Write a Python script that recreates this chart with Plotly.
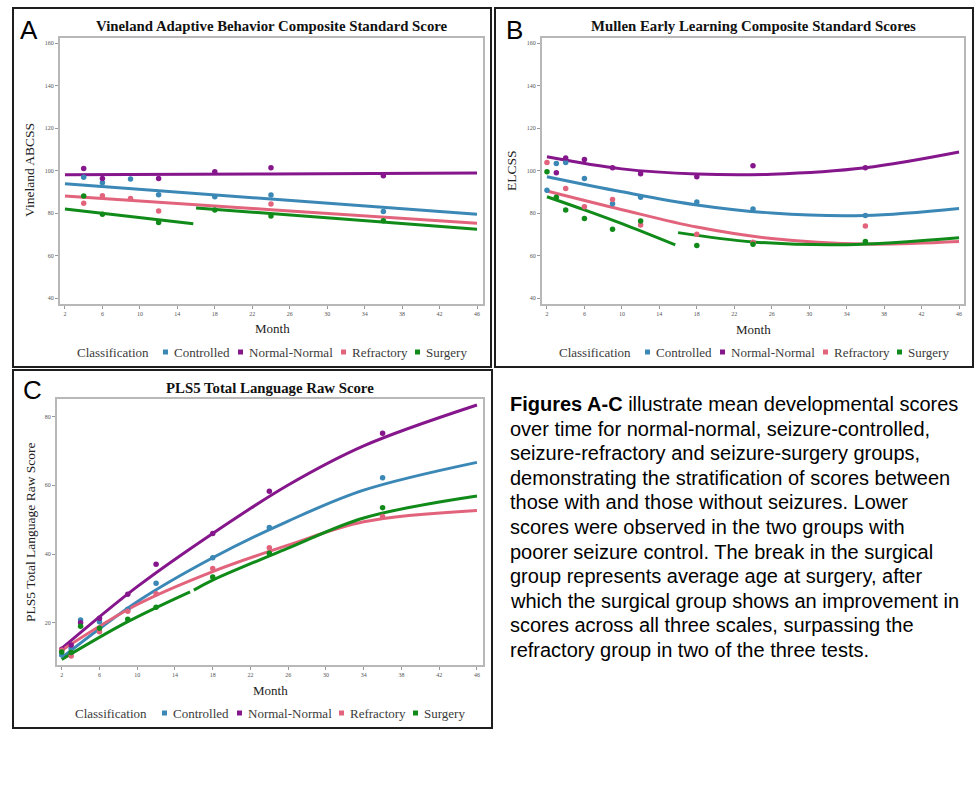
import plotly.graph_objects as go

W, H = 974, 806

# ---------------- shared labels / ticks ----------------
groups = ["Controlled", "Normal-Normal", "Refractory", "Surgery"]
group_colors = ["#3b88b6", "#86168b", "#e2647c", "#108a18"]
month_ticks = [2, 6, 10, 14, 18, 22, 26, 30, 34, 38, 42, 46]
std_ticks = [40, 60, 80, 100, 120, 140, 160]
pls_ticks = [20, 40, 60, 80]

# ---------------- Panel A: Vineland ABCSS ----------------
vab_ctrl_month = [4, 6, 9, 12, 18, 24, 36]
vab_ctrl_mean = [96.8, 94.3, 96.0, 88.6, 87.7, 88.5, 80.7]
vab_nn_month = [4, 6, 12, 18, 24, 36]
vab_nn_mean = [101.0, 96.3, 96.3, 99.4, 101.3, 97.6]
vab_ref_month = [4, 6, 9, 12, 24]
vab_ref_mean = [84.6, 88.2, 86.9, 81.0, 84.3]
vab_surg_month = [4, 6, 12, 18, 24, 36]
vab_surg_mean = [88.0, 79.4, 75.6, 81.4, 78.6, 76.4]

vab_fit_month = [2, 24, 46]
vab_ctrl_fit = [93.8, 86.6, 79.4]
vab_nn_fit = [98.0, 98.4, 98.8]
vab_ref_fit = [88.0, 81.6, 75.2]
vab_surg_pre_month = [2, 15.7]
vab_surg_pre_fit = [81.9, 75.0]
vab_surg_post_month = [16, 31, 46]
vab_surg_post_fit = [82.4, 77.4, 72.4]

# ---------------- Panel B: Mullen ELCSS ----------------
elc_ctrl_month = [2, 3, 4, 6, 9, 12, 18, 24, 36]
elc_ctrl_mean = [90.7, 103.3, 103.8, 96.3, 84.4, 87.4, 85.2, 81.9, 78.9]
elc_nn_month = [3, 4, 6, 9, 12, 18, 24, 36]
elc_nn_mean = [99.0, 105.9, 105.2, 101.3, 98.5, 97.1, 102.3, 101.3]
elc_ref_month = [2, 4, 6, 9, 12, 18, 24, 36]
elc_ref_mean = [103.8, 91.6, 83.0, 86.4, 74.4, 70.0, 66.3, 73.9]
elc_surg_month = [2, 3, 4, 6, 9, 12, 18, 24, 36]
elc_surg_mean = [99.4, 87.4, 81.4, 77.5, 72.4, 76.3, 64.7, 65.3, 66.6]

elc_fit_month = [2, 10, 18, 26, 36, 46]
elc_ctrl_fit = [97.1, 90.0, 83.8, 80.0, 78.9, 82.2]
elc_nn_fit = [106.5, 100.8, 98.4, 98.3, 101.3, 108.7]
elc_ref_fit = [90.4, 81.6, 73.4, 68.0, 65.4, 66.6]
elc_surg_pre_month = [2, 6, 10, 15.7]
elc_surg_pre_fit = [87.7, 81.5, 75.0, 65.0]
elc_surg_post_month = [16, 24, 34, 46]
elc_surg_post_fit = [70.8, 66.4, 65.1, 68.4]

# ---------------- Panel C: PLS5 raw ----------------
pls_ctrl_month = [2, 3, 4, 6, 9, 12, 18, 24, 36]
pls_ctrl_mean = [10.6, 12.5, 20.8, 20.3, 23.9, 31.5, 38.9, 47.7, 62.2]
pls_nn_month = [2, 3, 4, 6, 9, 12, 18, 24, 36]
pls_nn_mean = [12.3, 13.5, 20.0, 21.3, 28.3, 37.0, 46.0, 58.3, 75.2]
pls_ref_month = [2, 3, 6, 9, 12, 18, 24, 36]
pls_ref_mean = [12.0, 10.3, 17.4, 23.3, 28.4, 35.8, 41.8, 50.9]
pls_surg_month = [2, 3, 4, 6, 9, 12, 18, 24, 36]
pls_surg_mean = [11.5, 11.3, 19.0, 18.4, 21.0, 24.5, 33.3, 40.2, 53.5]

pls_fit_month = [2, 10, 18, 26, 34, 46]
pls_ctrl_fit = [9.8, 26.1, 38.9, 49.6, 58.6, 66.7]
pls_nn_fit = [12.5, 30.5, 46.0, 60.1, 71.5, 83.4]
pls_ref_fit = [12.0, 25.3, 34.9, 42.6, 49.4, 52.7]
pls_surg_pre_month = [2, 9, 15.6]
pls_surg_pre_fit = [9.3, 20.3, 29.0]
pls_surg_post_month = [16, 18, 26, 34, 46]
pls_surg_post_fit = [29.5, 32.4, 41.7, 50.5, 56.9]

# ---------------- text ----------------
panel_titles = ["Vineland Adaptive Behavior Composite Standard Score",
                "Mullen Early Learning Composite Standard Scores",
                "PLS5 Total Language Raw Score"]
y_titles = ["Vineland ABCSS", "ELCSS", "PLS5 Total Language Raw Score"]
panel_letters = ["A", "B", "C"]
legend_title = "Classification"
x_title = "Month"
caption_lines = [
    "<b>Figures A-C</b> illustrate mean developmental scores",
    "over time for normal-normal, seizure-controlled,",
    "seizure-refractory and seizure-surgery groups,",
    "demonstrating the stratification of scores between",
    "those with and those without seizures. Lower",
    "scores were observed in the two groups with",
    "poorer seizure control. The break in the surgical",
    "group represents average age at surgery, after",
    "which the surgical group shows an improvement in",
    "scores across all three scales, surpassing the",
    "refractory group in two of the three tests.",
]


def px(x):
    return x / W


def py(y):
    return 1 - y / H


SERIF = "Liberation Serif, Times New Roman, serif"
SANS = "Liberation Sans, Arial, sans-serif"

fig = go.Figure()


def add_panel(ax, points, fits, surg_pre, surg_post):
    xa = "x" if ax == 1 else f"x{ax}"
    ya = "y" if ax == 1 else f"y{ax}"
    for (fm, fy), col in zip(fits, group_colors[:3]):
        fig.add_trace(go.Scatter(x=fm, y=fy, mode="lines", xaxis=xa, yaxis=ya,
                                 line=dict(color=col, width=3, shape="spline"),
                                 showlegend=False, hoverinfo="skip"))
    for seg in (surg_pre, surg_post):
        fig.add_trace(go.Scatter(x=seg[0], y=seg[1], mode="lines", xaxis=xa, yaxis=ya,
                                 line=dict(color=group_colors[3], width=3, shape="spline"),
                                 showlegend=False, hoverinfo="skip"))
    for (m, v), col, name in zip(points, group_colors, groups):
        fig.add_trace(go.Scatter(x=m, y=v, mode="markers", xaxis=xa, yaxis=ya, name=name,
                                 marker=dict(color=col, size=5.5),
                                 showlegend=False))


add_panel(1,
          [(vab_ctrl_month, vab_ctrl_mean), (vab_nn_month, vab_nn_mean),
           (vab_ref_month, vab_ref_mean), (vab_surg_month, vab_surg_mean)],
          [(vab_fit_month, vab_ctrl_fit), (vab_fit_month, vab_nn_fit), (vab_fit_month, vab_ref_fit)],
          (vab_surg_pre_month, vab_surg_pre_fit), (vab_surg_post_month, vab_surg_post_fit))
add_panel(2,
          [(elc_ctrl_month, elc_ctrl_mean), (elc_nn_month, elc_nn_mean),
           (elc_ref_month, elc_ref_mean), (elc_surg_month, elc_surg_mean)],
          [(elc_fit_month, elc_ctrl_fit), (elc_fit_month, elc_nn_fit), (elc_fit_month, elc_ref_fit)],
          (elc_surg_pre_month, elc_surg_pre_fit), (elc_surg_post_month, elc_surg_post_fit))
add_panel(3,
          [(pls_ctrl_month, pls_ctrl_mean), (pls_nn_month, pls_nn_mean),
           (pls_ref_month, pls_ref_mean), (pls_surg_month, pls_surg_mean)],
          [(pls_fit_month, pls_ctrl_fit), (pls_fit_month, pls_nn_fit), (pls_fit_month, pls_ref_fit)],
          (pls_surg_pre_month, pls_surg_pre_fit), (pls_surg_post_month, pls_surg_post_fit))

axis_common = dict(showgrid=False, zeroline=False, showline=True, mirror=True,
                   linecolor="#b8b8b8", linewidth=2, ticks="outside", ticklen=3,
                   tickwidth=1, tickcolor="#999999",
                   tickfont=dict(family=SERIF, size=6, color="#555555"))

fig.update_layout(
    width=W, height=H, margin=dict(l=0, r=0, t=0, b=0),
    paper_bgcolor="white", plot_bgcolor="white", showlegend=False,
    xaxis=dict(domain=[px(60), px(483)], range=[1.47, 46.64], tickvals=month_ticks,
               anchor="y", **axis_common),
    yaxis=dict(domain=[py(304), py(38)], range=[37.2, 162.4], tickvals=std_ticks,
               anchor="x", **axis_common),
    xaxis2=dict(domain=[px(542), px(964)], range=[1.47, 46.53], tickvals=month_ticks,
                anchor="y2", **axis_common),
    yaxis2=dict(domain=[py(304), py(38)], range=[37.2, 162.4], tickvals=std_ticks,
                anchor="x2", **axis_common),
    xaxis3=dict(domain=[px(57), px(483)], range=[1.50, 46.64], tickvals=month_ticks,
                anchor="y3", **axis_common),
    yaxis3=dict(domain=[py(665), py(399)], range=[7.68, 85.15], tickvals=pls_ticks,
                anchor="x3", **axis_common),
)

ann = []
shapes = []

# outer panel boxes
for x0, y0, x1, y1 in [(13, 8, 491, 367), (495, 8, 973, 367), (13, 370, 492, 728)]:
    shapes.append(dict(type="rect", xref="paper", yref="paper", x0=px(x0), x1=px(x1),
                       y0=py(y1), y1=py(y0), line=dict(color="#1e1e1e", width=2)))

# titles
for t, (cx, cy) in zip(panel_titles, [(272, 26), (753, 26), (270, 388)]):
    ann.append(dict(text=f"<b>{t}</b>", x=px(cx), y=py(cy), xref="paper", yref="paper",
                    showarrow=False, xanchor="center", yanchor="middle",
                    font=dict(family=SERIF, size=14.8, color="#111111")))
# y titles
for t, (cx, cy) in zip(y_titles, [(29, 170), (512, 171), (30, 532)]):
    ann.append(dict(text=t, x=px(cx), y=py(cy), xref="paper", yref="paper", textangle=-90,
                    showarrow=False, xanchor="center", yanchor="middle",
                    font=dict(family=SERIF, size=13.5, color="#222222")))
# x titles
for cx, cy in [(272, 328), (753, 329), (270, 690)]:
    ann.append(dict(text=x_title, x=px(cx), y=py(cy), xref="paper", yref="paper",
                    showarrow=False, xanchor="center", yanchor="middle",
                    font=dict(family=SERIF, size=13, color="#222222")))
# panel letters
for t, (cx, cy) in zip(panel_letters, [(29, 30), (514, 30), (32, 390)]):
    ann.append(dict(text=t, x=px(cx), y=py(cy), xref="paper", yref="paper",
                    showarrow=False, xanchor="center", yanchor="middle",
                    font=dict(family=SANS, size=26, color="#000000")))

# legends (Classification row)
legend_rows = [
    (352, 75, [163, 238, 341, 415]),
    (352, 557, [645, 720, 823, 897]),
    (713, 73, [162, 237, 339, 413]),
]
for ly, lx, sq in legend_rows:
    ann.append(dict(text=legend_title, x=px(lx), y=py(ly), xref="paper", yref="paper",
                    showarrow=False, xanchor="left", yanchor="middle",
                    font=dict(family=SERIF, size=13, color="#3a3a3a")))
    for sx, name, col in zip(sq, groups, group_colors):
        shapes.append(dict(type="rect", xref="paper", yref="paper",
                           x0=px(sx), x1=px(sx + 5), y0=py(ly + 2.5), y1=py(ly - 2.5),
                           fillcolor=col, line=dict(width=0)))
        ann.append(dict(text=name, x=px(sx + 9), y=py(ly), xref="paper", yref="paper",
                        showarrow=False, xanchor="left", yanchor="middle",
                        font=dict(family=SERIF, size=13, color="#3a3a3a")))

# caption block
for i, line in enumerate(caption_lines):
    ann.append(dict(text=line, x=px(508), y=py(404 + 24.6 * i), xref="paper", yref="paper",
                    showarrow=False, xanchor="left", yanchor="middle", align="left",
                    font=dict(family=SANS, size=20, color="#000000")))

fig.update_layout(annotations=ann, shapes=shapes)
fig.write_html("out.html", config={"displayModeBar": False},
               post_script="document.body.style.margin='0';document.body.style.overflow='hidden';")
